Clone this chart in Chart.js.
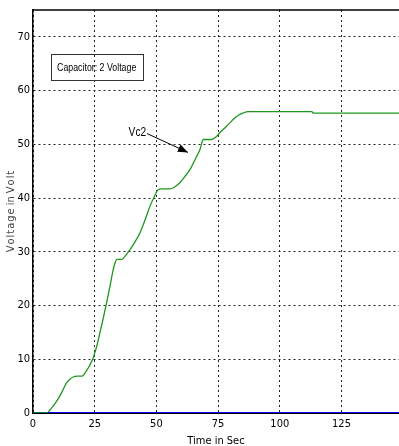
<!DOCTYPE html>
<html>
<head>
<meta charset="utf-8">
<script src="https://cdn.jsdelivr.net/npm/chart.js@4/dist/chart.umd.min.js"></script>
<style>
  html, body { margin: 0; padding: 0; background: #fff; overflow: hidden; }
  #wrap { width: 399px; height: 446px; position: relative; }
</style>
</head>
<body>
<div id="wrap"><canvas id="vcChart"></canvas></div>
<script>
// dados (tempo em s, tensão em V)
const timeSec = [0, 5.3, 7.5, 9.6, 11.5, 13.6, 15, 16.3, 18, 19.7, 21.7, 23, 24.4, 25.8, 27.1, 28.5,
  29.8, 31.2, 32.5, 33.3, 33.9, 35.9, 37.5, 39.3, 41.4, 43.4, 45.4, 47.4, 49.2, 50.8, 52, 55.5,
  57.5, 59.6, 61.5, 63.6, 65.6, 67.7, 69, 72.4, 74, 75.8, 77.8, 79.8, 81.5, 83.2, 85, 87.2,
  113, 113.5, 148.3];
const vc2 = [0, 0, 0.9, 2.2, 3.7, 5.6, 6.3, 6.7, 6.85, 6.85, 7.9, 8.9, 10.3, 12.4, 14.9, 17.7,
  20.5, 23.6, 26.7, 28.0, 28.6, 28.6, 29.3, 30.4, 31.9, 33.6, 35.9, 38.5, 40.3, 41.6, 41.7, 41.7,
  42.1, 42.9, 44.0, 45.3, 47.1, 49.1, 50.9, 50.9, 51.3, 52.2, 53.1, 54.0, 54.8, 55.4, 55.8, 56.1,
  56.1, 55.8, 55.8];
const baseTime = [0, 148.3];
const baseVolt = [0, 0];

const xTicks = [0, 25, 50, 75, 100, 125];
const yTicks = [0, 10, 20, 30, 40, 50, 60, 70];

const FONT = "'DejaVu Sans Condensed', 'Liberation Sans Narrow', 'Liberation Sans', Arial, sans-serif";

// texto estreito (imita a fonte condensada do original)
function narrowText(ctx, text, cx, cy, sx) {
  ctx.save();
  ctx.translate(cx, cy);
  ctx.scale(sx, 1);
  ctx.fillText(text, 0, 0);
  ctx.restore();
}

// caixa de texto, seta "Vc2" e borda superior
const annotations = {
  id: 'annotations',
  afterDatasetsDraw(chart) {
    const { ctx, chartArea, scales: { x, y } } = chart;
    ctx.save();
    // borda superior
    ctx.strokeStyle = '#000';
    ctx.lineWidth = 1.5;
    ctx.beginPath();
    ctx.moveTo(chartArea.left, chartArea.top);
    ctx.lineTo(chartArea.right, chartArea.top);
    ctx.stroke();

    // caixa "Capacitor: 2 Voltage"
    const bx0 = x.getPixelForValue(7.2), bx1 = x.getPixelForValue(44.4);
    const by0 = y.getPixelForValue(66.8), by1 = y.getPixelForValue(61.9);
    ctx.lineWidth = 1;
    ctx.strokeStyle = '#333';
    ctx.strokeRect(Math.round(bx0) + 0.5, Math.round(by0) + 0.5, Math.round(bx1 - bx0), Math.round(by1 - by0));
    ctx.fillStyle = '#000';
    ctx.font = '11px Liberation Sans, Arial, sans-serif';
    ctx.textAlign = 'center';
    ctx.textBaseline = 'middle';
    narrowText(ctx, 'Capacitor: 2 Voltage', (bx0 + bx1) / 2, (by0 + by1) / 2 + 1, 0.8);

    // rótulo Vc2 com seta
    ctx.font = '12px Liberation Sans, Arial, sans-serif';
    narrowText(ctx, 'Vc2', x.getPixelForValue(42.3), y.getPixelForValue(52.2), 0.85);
    const ax0 = x.getPixelForValue(46.2), ay0 = y.getPixelForValue(52.0);
    const ax1 = x.getPixelForValue(62.8), ay1 = y.getPixelForValue(48.5);
    ctx.lineWidth = 1;
    ctx.strokeStyle = '#000';
    ctx.beginPath();
    ctx.moveTo(ax0, ay0);
    ctx.lineTo(ax1, ay1);
    ctx.stroke();
    const ang = Math.atan2(ay1 - ay0, ax1 - ax0);
    const len = 10, wid = 4;
    ctx.beginPath();
    ctx.moveTo(ax1, ay1);
    ctx.lineTo(ax1 - len * Math.cos(ang) + wid * Math.sin(ang), ay1 - len * Math.sin(ang) - wid * Math.cos(ang));
    ctx.lineTo(ax1 - len * Math.cos(ang) - wid * Math.sin(ang), ay1 - len * Math.sin(ang) + wid * Math.cos(ang));
    ctx.closePath();
    ctx.fill();
    ctx.restore();
  }
};

document.addEventListener('DOMContentLoaded', () => {
  const ctx = document.getElementById('vcChart').getContext('2d');

  new Chart(ctx, {
    type: 'line',
    data: {
      datasets: [
        {
          label: 'Vc2',
          data: timeSec.map((t, i) => ({ x: t, y: vc2[i] })),
          borderColor: 'rgb(30,150,30)',
          borderWidth: 1.3,
          pointRadius: 0,
          cubicInterpolationMode: 'monotone',
          fill: false
        },
        {
          label: 'base',
          data: baseTime.map((t, i) => ({ x: t, y: baseVolt[i] })),
          borderColor: '#0000ee',
          borderWidth: 2,
          pointRadius: 0,
          fill: false
        }
      ]
    },
    options: {
      responsive: true,
      maintainAspectRatio: false,
      animation: false,
      layout: { padding: { top: 10, right: 0, left: 0, bottom: 0 } },
      plugins: { legend: { display: false }, tooltip: { enabled: false } },
      scales: {
        x: {
          type: 'linear',
          min: 0,
          max: 148.3,
          afterBuildTicks: s => { s.ticks = xTicks.map(v => ({ value: v })); },
          afterFit: s => { s.height = 33; },
          ticks: { color: '#000', font: { family: FONT, size: 11 }, padding: 5, maxRotation: 0 },
          grid: { color: '#222', lineWidth: 1, drawTicks: false },
          border: { display: true, color: '#000', width: 2, dash: [2, 3] },
          title: {
            display: true, text: 'Time in Sec', color: '#000',
            font: { family: FONT, size: 11, lineHeight: 0.85 }, padding: 0
          }
        },
        y: {
          type: 'linear',
          min: 0,
          max: 75,
          afterBuildTicks: s => { s.ticks = yTicks.map(v => ({ value: v })); },
          afterFit: s => { s.width = 33; },
          ticks: { color: '#000', font: { family: FONT, size: 11 }, padding: 3 },
          grid: { color: '#222', lineWidth: 1, drawTicks: false },
          border: { display: true, color: '#000', width: 1.5, dash: [2, 3] },
          title: {
            display: true, text: 'V\u200Ao\u200Al\u200At\u200Aa\u200Ag\u200Ae in V\u200Ao\u200Al\u200At', color: '#444',
            font: { family: FONT, size: 11 }, padding: { top: 5, bottom: 0 }
          }
        }
      }
    },
    plugins: [annotations]
  });
});
</script>
</body>
</html>
